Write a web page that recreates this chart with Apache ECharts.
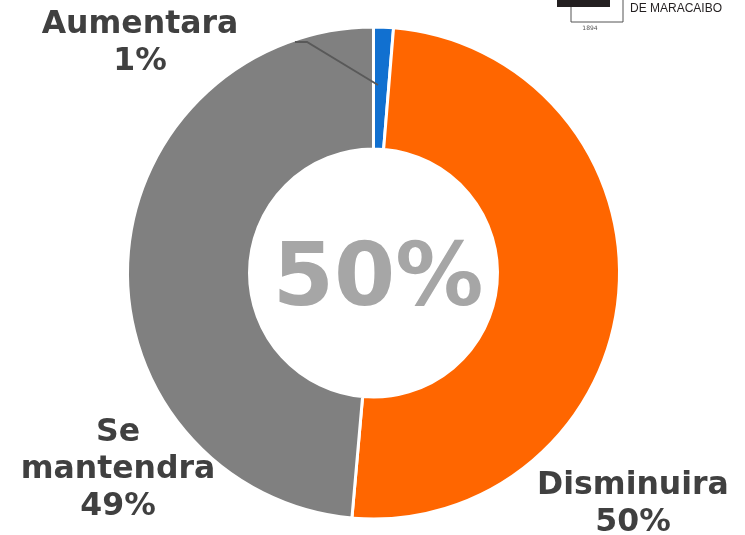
<!DOCTYPE html>
<html>
<head>
<meta charset="utf-8">
<script src="https://cdn.jsdelivr.net/npm/echarts@6/dist/echarts.min.js"></script>
<style>
  html, body { margin: 0; padding: 0; background: #fff; }
  #chart { width: 745px; height: 535px; }
</style>
</head>
<body>
<div id="chart"></div>
<script>
// Share of answers per option
var categories = ['Aumentara', 'Disminuira', 'Se mantendra'];
var values = [1.3, 50.1, 48.6];
var colors = ['#1170d0', '#ff6600', '#808080'];
var centerText = '50%';

(function () {
  'use strict';

  var chart = echarts.init(document.getElementById('chart'));

  // where each label block sits (centre of text block)
  var labelSpots = [
    { x: 140, y: 43 },
    { x: 633, y: 504 },
    { x: 118, y: 470 }
  ];

  var option = {
    backgroundColor: '#ffffff',
    animation: false,
    graphic: [
      {
        type: 'text',
        x: 378,
        y: 282,
        style: {
          text: centerText,
          fill: '#a6a6a6',
          font: 'bold 88px "DejaVu Sans", sans-serif',
          align: 'center',
          verticalAlign: 'middle'
        }
      },
      // leader line of the small slice
      {
        type: 'polyline',
        z: 10,
        shape: { points: [[378, 85], [307, 42], [295, 42]] },
        style: { stroke: '#595959', lineWidth: 2, fill: null }
      },
      // partial logo in the top-right corner
      {
        type: 'rect',
        shape: { x: 557, y: 0, width: 53, height: 7 },
        style: { fill: '#231f20' }
      },
      {
        type: 'polyline',
        shape: { points: [[571, 7], [571, 22], [623, 22], [623, 0]] },
        style: { stroke: '#555', lineWidth: 1, fill: null }
      },
      {
        type: 'text',
        x: 590,
        y: 28,
        style: {
          text: '1894',
          fill: '#555',
          font: '6px "DejaVu Sans", sans-serif',
          align: 'center',
          verticalAlign: 'middle'
        }
      },
      {
        type: 'text',
        x: 630,
        y: 9,
        style: {
          text: 'DE MARACAIBO',
          fill: '#231f20',
          font: '12px "Liberation Sans", sans-serif',
          align: 'left',
          verticalAlign: 'middle'
        }
      }
    ],
    series: [
      {
        type: 'pie',
        center: [373.5, 273],
        radius: [124, 246],
        startAngle: 90,
        clockwise: true,
        percentPrecision: 0,
        itemStyle: {
          borderColor: '#ffffff',
          borderWidth: 3
        },
        label: {
          show: true,
          position: 'outside',
          formatter: function (p) {
            return p.name.replace(' ', '\n') + '\n' + p.percent + '%';
          },
          color: '#404040',
          fontFamily: '"DejaVu Sans", sans-serif',
          fontWeight: 'bold',
          fontSize: 31.5,
          lineHeight: 37,
          align: 'center',
          overflow: 'none',
          edgeDistance: 0,
          bleedMargin: 0
        },
        labelLine: { show: false },
        labelLayout: function (params) {
          var spot = labelSpots[params.dataIndex];
          return {
            x: spot.x,
            y: spot.y,
            align: 'center',
            verticalAlign: 'middle'
          };
        },
        data: categories.map(function (name, i) {
          return {
            name: name,
            value: values[i],
            itemStyle: { color: colors[i] }
          };
        }),
        emphasis: { disabled: true }
      }
    ]
  };

  chart.setOption(option);

  window.addEventListener('resize', function () {
    chart.resize();
  });
})();
</script>
</body>
</html>
